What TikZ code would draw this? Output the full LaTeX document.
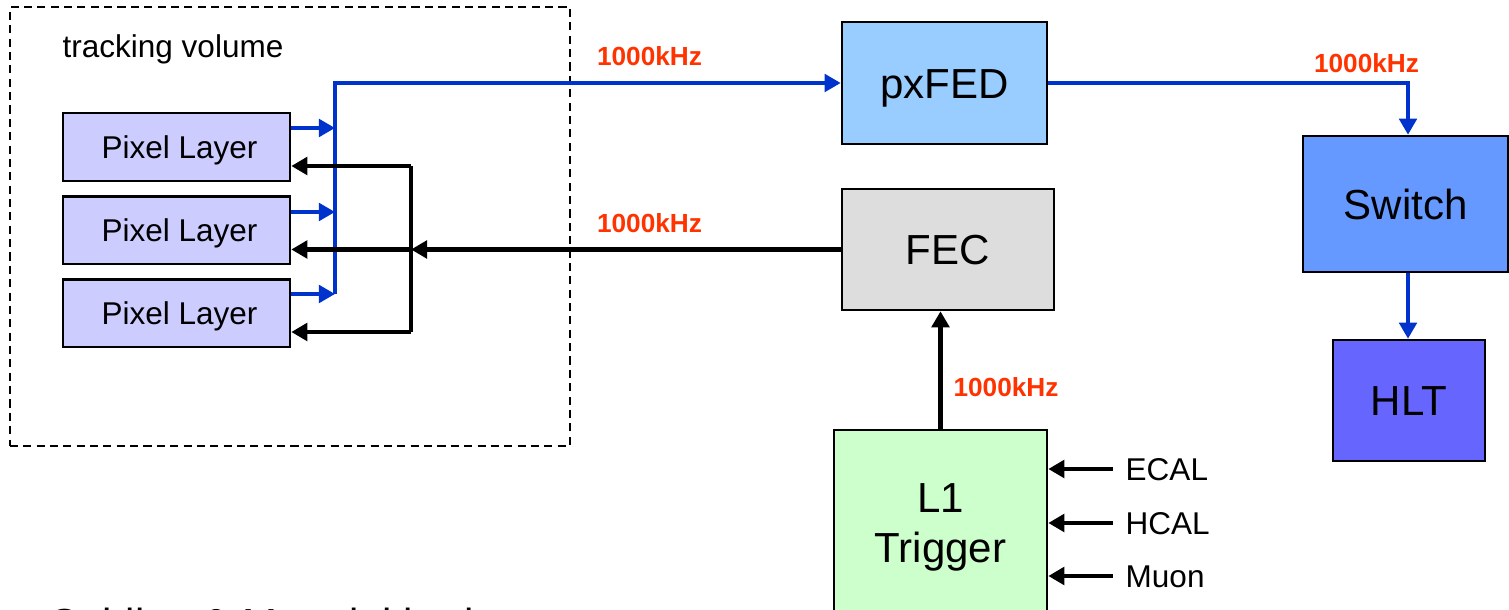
\documentclass[tikz,border=0pt]{standalone}
\usepackage{fontspec}
\setmainfont{Liberation Sans}
\usetikzlibrary{arrows.meta}
\definecolor{lineblue}{HTML}{0033CC}
\definecolor{ratered}{HTML}{FF3300}
\definecolor{pixc}{HTML}{CCCCFF}
\definecolor{pxfedc}{HTML}{99CCFF}
\definecolor{fecc}{HTML}{DDDDDD}
\definecolor{switchc}{HTML}{6699FF}
\definecolor{hltc}{HTML}{6666FF}
\definecolor{lonec}{HTML}{CCFFCC}
\tikzset{
  smallfont/.style={font=\fontsize{8.96}{10.75}\selectfont},
  bigfont/.style={font=\fontsize{11.95}{14.2}\selectfont},
  pixbox/.style={draw=black, fill=pixc, line width=0.7pt, smallfont, inner sep=0pt,
    text height=6.4pt, text depth=0pt, minimum width=2.27cm, minimum height=0.675cm},
  bigbox/.style={draw=black, line width=0.7pt, bigfont, inner sep=0pt,
    text height=8.56pt, text depth=0pt},
  rate/.style={text=ratered, font=\bfseries\fontsize{7.45}{9}\selectfont, inner sep=0pt,
    text height=5.33pt, text depth=0pt},
  inlabel/.style={smallfont, inner sep=0pt, inner xsep=0.12cm, text height=6.4pt,
    text depth=0pt, anchor=west},
  tip/.style={-{Triangle[length=4.6pt,width=5pt]}},
  bluewire/.style={draw=lineblue, line width=1.05pt},
  blackwire/.style={draw=black, line width=1.3pt}
}
\begin{document}
\begin{tikzpicture}[x=0.01cm, y=-0.01cm]
\useasboundingbox (0,0) rectangle (1509,610);
\fill[white] (0,0) rectangle (1509,610);
\clip (0,0) rectangle (1509,610);

% tracking volume
\node[draw=black, dashed, dash pattern=on 2.3pt off 1.5pt, line width=0.6pt,
      minimum width=5.6cm, minimum height=4.38cm, inner sep=0pt] (tv) at (290,226.5) {};
\node[smallfont, anchor=base west, inner sep=0pt] (tvl) at (62,58) {tracking volume};

% pixel layers
\node[pixbox] (p1) at (176.5,147) {\hspace*{0.06cm}Pixel Layer};
\node[pixbox] (p2) at (176.5,230.5) {\hspace*{0.06cm}Pixel Layer};
\node[pixbox] (p3) at (176.5,313.5) {\hspace*{0.06cm}Pixel Layer};

% main boxes
\node[bigbox, fill=pxfedc, minimum width=2.05cm, minimum height=1.22cm] (px) at (944.5,83) {pxFED};
\node[bigbox, fill=fecc, minimum width=2.12cm, minimum height=1.21cm] (fec) at (948,249.5) {FEC};
\node[bigbox, fill=switchc, minimum width=2.05cm, minimum height=1.36cm] (sw) at (1405.5,204) {Switch};
\node[bigbox, fill=hltc, minimum width=1.52cm, minimum height=1.21cm] (hlt) at (1409,400.5) {HLT};
\node[draw=black, line width=0.7pt, fill=lonec, bigfont, align=center, inner sep=0pt,
      minimum width=2.13cm, minimum height=1.95cm] (l1) at (940.5,527.5) {L1\\Trigger};

% rate labels
\node[rate] (r1) at (649.5,56.5) {1000kHz};
\node[rate] (r2) at (649.5,223.5) {1000kHz};
\node[rate] (r3) at (1366.5,63.5) {1000kHz};
\node[rate] (r4) at (1006,387) {1000kHz};

% blue readout path
\coordinate (b1) at (335,128);
\coordinate (b2) at (335,212);
\coordinate (b3) at (335,294);
\coordinate (bt) at (335,83);
\draw[bluewire, tip] (p1.east |- b1) -- (b1);
\draw[bluewire, tip] (p2.east |- b2) -- (b2);
\draw[bluewire, tip] (p3.east |- b3) -- (b3);
\draw[bluewire, tip] (b3) -- (bt) -- (px.west);
\coordinate (st) at (1408,83);
\draw[bluewire, tip] (px.east) -- (st) -- (st |- sw.north);
\draw[bluewire, tip] (st |- sw.south) -- (st |- hlt.north);

% black control path
\coordinate (k1) at (411,166);
\coordinate (k2) at (411,249.5);
\coordinate (k3) at (411,332);
\draw[blackwire, tip] (fec.west) -- (k2);
\draw[blackwire, tip] (k2) -- (p2.east |- k2);
\draw[blackwire] (k1) -- (k3);
\draw[blackwire, tip] (k1) -- (p1.east |- k1);
\draw[blackwire, tip] (k3) -- (p3.east |- k3);
\draw[blackwire, tip] (l1.north) -- (l1.north |- fec.south);

% L1 inputs
\node[inlabel] (ecal) at (1113,469) {ECAL};
\node[inlabel] (hcal) at (1113,523) {HCAL};
\node[inlabel] (muon) at (1113,576) {Muon};
\draw[blackwire, tip] (ecal.west) -- (l1.east |- ecal.west);
\draw[blackwire, tip] (hcal.west) -- (l1.east |- hcal.west);
\draw[blackwire, tip] (muon.west) -- (l1.east |- muon.west);

% bottom (cut) text
\node[bigfont, anchor=base west, inner sep=0pt] (cab) at (48,639) {Cabling \& Material budget};
\end{tikzpicture}
\end{document}
